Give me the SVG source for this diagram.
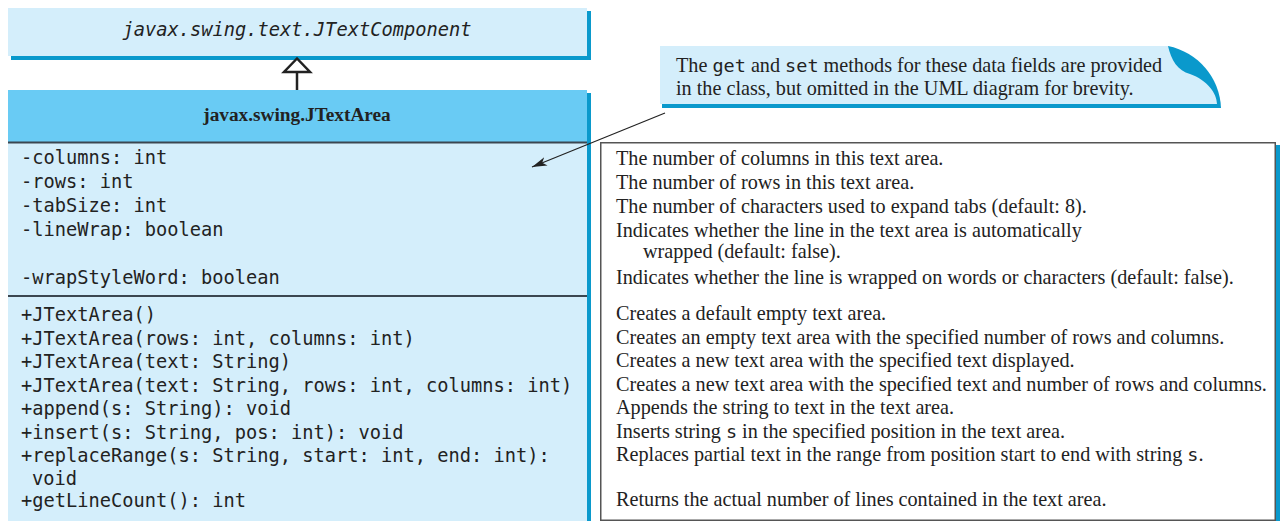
<svg xmlns="http://www.w3.org/2000/svg" width="1282" height="521" viewBox="0 0 1282 521">
<defs>
<style>
.mono{font-family:"DejaVu Sans Mono","Liberation Mono",monospace;font-size:18.7px;fill:#222}
.serif{font-family:"Liberation Serif","Times New Roman",serif;font-size:20.2px;fill:#222}
.sm{font-family:"DejaVu Sans Mono","Liberation Mono",monospace;font-size:18.5px}
.shadow{fill:#0a99cc}
.light{fill:#d4eefb}
.sep{stroke:#3b4650;stroke-width:2}
</style>
<marker id="arr" markerWidth="16" markerHeight="10" refX="15" refY="5" orient="auto" markerUnits="userSpaceOnUse">
<path d="M0,0.5 L15,5 L0,9.5 L4,5 Z" fill="#222"/>
</marker>
</defs>
<rect width="1282" height="521" fill="#fff"/>

<g id="node-jtextcomponent">
<rect class="shadow" x="11" y="11" width="580" height="49"/>
<rect class="light" x="8" y="8" width="579" height="48"/>
<text class="mono" x="297" y="36" text-anchor="middle" font-style="italic">javax.swing.text.JTextComponent</text>
</g>

<g id="node-jtextarea">
<rect class="shadow" x="11" y="93" width="580" height="440"/>
<rect class="light" x="8" y="90" width="579" height="440"/>
<rect x="8" y="90" width="579" height="52" fill="#69cbf4"/>
<line class="sep" x1="8" y1="142.5" x2="587" y2="142.5"/>
<line class="sep" x1="8" y1="296" x2="587" y2="296"/>
<text class="serif" x="297" y="121" text-anchor="middle" font-weight="bold" style="font-size:19.3px">javax.swing.JTextArea</text>
<text class="mono" x="21" y="164">-columns: int</text>
<text class="mono" x="21" y="188">-rows: int</text>
<text class="mono" x="21" y="212">-tabSize: int</text>
<text class="mono" x="21" y="236">-lineWrap: boolean</text>
<text class="mono" x="21" y="284">-wrapStyleWord: boolean</text>
<text class="mono" x="21" y="321">+JTextArea()</text>
<text class="mono" x="21" y="344.5">+JTextArea(rows: int, columns: int)</text>
<text class="mono" x="21" y="368">+JTextArea(text: String)</text>
<text class="mono" x="21" y="391.5">+JTextArea(text: String, rows: int, columns: int)</text>
<text class="mono" x="21" y="415">+append(s: String): void</text>
<text class="mono" x="21" y="438.5">+insert(s: String, pos: int): void</text>
<text class="mono" x="21" y="462">+replaceRange(s: String, start: int, end: int):</text>
<text class="mono" x="32" y="485">void</text>
<text class="mono" x="21" y="507">+getLineCount(): int</text>
</g>

<g id="node-descriptions">
<rect class="shadow" x="603" y="145" width="677" height="380"/>
<rect x="600.75" y="142.75" width="674.5" height="377.5" fill="#fff" stroke="#555" stroke-width="1.5"/>
<text class="serif" x="616" y="165">The number of columns in this text area.</text>
<text class="serif" x="616" y="189">The number of rows in this text area.</text>
<text class="serif" x="616" y="213">The number of characters used to expand tabs (default: 8).</text>
<text class="serif" x="616" y="237">Indicates whether the line in the text area is automatically</text>
<text class="serif" x="643" y="258">wrapped (default: false).</text>
<text class="serif" x="616" y="284">Indicates whether the line is wrapped on words or characters (default: false).</text>
<text class="serif" x="616" y="320">Creates a default empty text area.</text>
<text class="serif" x="616" y="343.5">Creates an empty text area with the specified number of rows and columns.</text>
<text class="serif" x="616" y="367">Creates a new text area with the specified text displayed.</text>
<text class="serif" x="616" y="390.5">Creates a new text area with the specified text and number of rows and columns.</text>
<text class="serif" x="616" y="414">Appends the string to text in the text area.</text>
<text class="serif" x="616" y="437.5">Inserts string <tspan class="sm">s</tspan> in the specified position in the text area.</text>
<text class="serif" x="616" y="461">Replaces partial text in the range from position start to end with string <tspan class="sm">s</tspan>.</text>
<text class="serif" x="616" y="506">Returns the actual number of lines contained in the text area.</text>
</g>

<g id="node-note">
<path class="shadow" d="M662,48 L1168,46 C1198,52 1220,78 1221,108 L662,108 Z"/>
<path class="light" d="M660,46 L1168,46 C1171,60 1178,71 1190,74 C1207,80 1217,93 1217,104 L660,104 Z"/>
<text class="serif" x="676" y="72">The <tspan class="sm">get</tspan> and <tspan class="sm">set</tspan> methods for these data fields are provided</text>
<text class="serif" x="676" y="95">in the class, but omitted in the UML diagram for brevity.</text>
</g>

<g id="connectors">
<line x1="297" y1="72" x2="297" y2="90" stroke="#222" stroke-width="2.5"/>
<path d="M297,58.5 L284,72 L310,72 Z" fill="#fff" stroke="#222" stroke-width="2.5" stroke-linejoin="miter"/>
<line x1="665" y1="113" x2="532" y2="167" stroke="#222" stroke-width="1.2" marker-end="url(#arr)"/>
</g>
</svg>
